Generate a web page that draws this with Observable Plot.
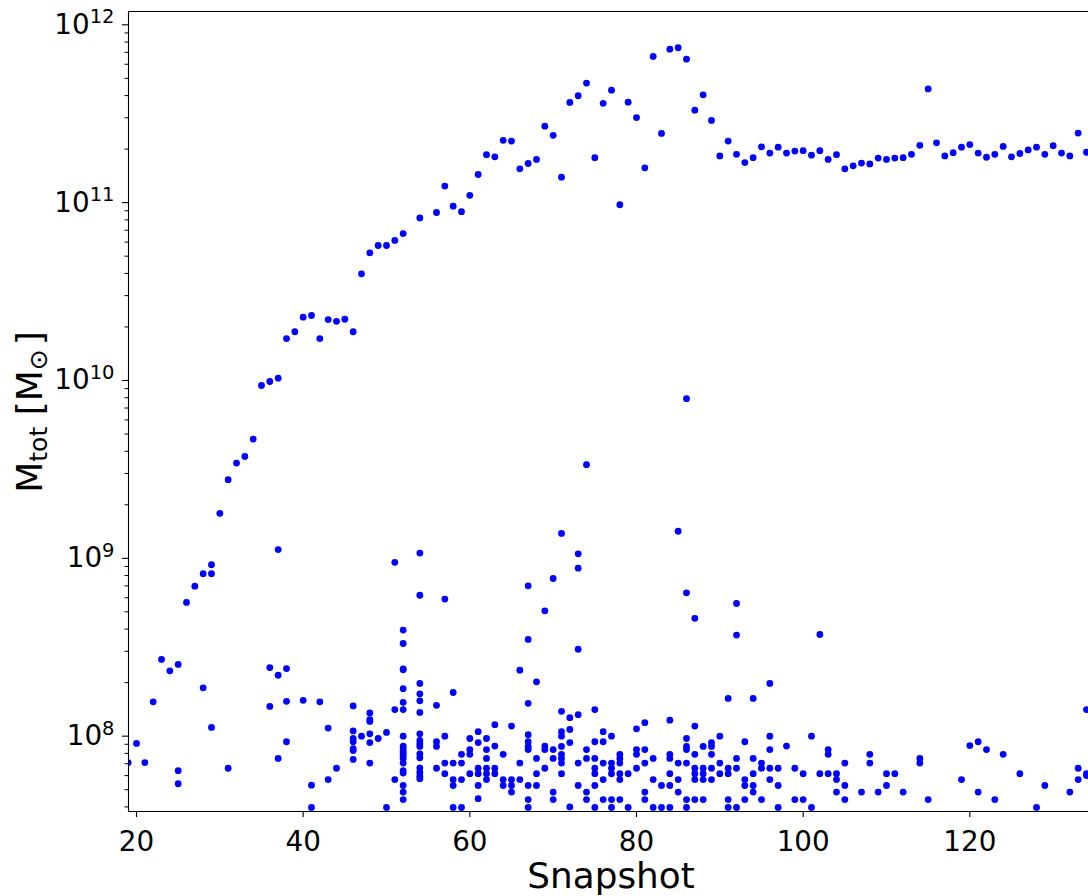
<!DOCTYPE html>
<html>
<head>
<meta charset="utf-8">
<script src="https://cdn.jsdelivr.net/npm/d3@7"></script>
<script src="https://cdn.jsdelivr.net/npm/@observablehq/plot@0.6"></script>
<style>
  html, body { margin: 0; padding: 0; background: #ffffff; }
  #chart svg { display: block; }
</style>
</head>
<body>
<div id="chart"></div>
<script>
// ---------- DATA ----------
// Main progenitor branch: snapshot and total mass (Msun)
const mainSnapshot = [22,23,24,25,26,27,28,29,30,31,32,33,34,35,36,37,38,39,40,41,42,43,44,45,46,47,48,49,50,51,52,54,56,57,58,59,60,61,62,63,64,65,66,67,68,69,70,71,72,73,74,75,76,77,78,79,80,81,82,83,84,85,86,87,88,89,90,91,92,93,94,95,96,97,98,99,100,101,102,103,104,105,106,107,108,109,110,111,112,113,114,115,116,117,118,119,120,121,122,123,124,125,126,127,128,129,130,131,132,133,134];
const mainMass = [1.56e8,2.7e8,2.33e8,2.53e8,5.65e8,6.97e8,8.2e8,9.2e8,1.79e9,2.77e9,3.43e9,3.74e9,4.68e9,9.37e9,9.87e9,1.03e10,1.72e10,1.88e10,2.27e10,2.32e10,1.72e10,2.2e10,2.15e10,2.21e10,1.88e10,3.98e10,5.22e10,5.74e10,5.74e10,6.13e10,6.7e10,8.2e10,8.8e10,1.24e11,9.55e10,8.9e10,1.10e11,1.44e11,1.86e11,1.81e11,2.24e11,2.22e11,1.55e11,1.66e11,1.75e11,2.69e11,2.39e11,1.39e11,3.66e11,3.99e11,4.70e11,1.79e11,3.62e11,4.29e11,9.73e10,3.67e11,3.01e11,1.57e11,6.64e11,2.45e11,7.29e11,7.43e11,6.41e11,3.31e11,4.04e11,2.90e11,1.83e11,2.22e11,1.87e11,1.68e11,1.79e11,2.06e11,1.90e11,2.05e11,1.90e11,1.95e11,1.96e11,1.85e11,1.96e11,1.75e11,1.86e11,1.55e11,1.61e11,1.67e11,1.65e11,1.78e11,1.75e11,1.78e11,1.79e11,1.87e11,2.10e11,4.36e11,2.17e11,1.83e11,1.91e11,2.05e11,2.12e11,1.90e11,1.80e11,1.87e11,2.07e11,1.81e11,1.89e11,1.98e11,2.05e11,1.87e11,2.09e11,1.90e11,1.83e11,2.46e11,1.92e11];

// Other haloes: [snapshot, total mass (Msun)]
const satellites = [
  [19,7.1e7],[20,9.1e7],[21,7.1e7],
  [25,6.4e7],[25,5.4e7],
  [28,1.87e8],
  [29,8.2e8],[29,1.12e8],
  [31,6.6e7],
  [36,2.43e8],[36,1.47e8],
  [37,2.2e8],[37,7.5e7],[37,1.12e9],
  [38,2.4e8],[38,1.57e8],[38,9.3e7],
  [40,1.59e8],
  [41,5.3e7],[41,3.97e7],
  [42,1.56e8],
  [43,1.11e8],[43,5.7e7],
  [44,6.6e7],
  [46,1.48e8],[46,1.07e8],[46,9.7e7],[46,9.3e7],[46,8.5e7],[46,8.3e7],[46,7.4e7],
  [47,1.0e8],
  [48,1.35e8],[48,1.24e8],[48,1.21e8],[48,1.03e8],[48,9.2e7],[48,7.06e7],
  [49,9.7e7],
  [50,1.05e8],[50,3.97e7],
  [51,9.5e8],[51,1.41e8],[51,5.7e7],
  [52,3.95e8],[52,3.32e8],[52,2.39e8],[52,2.36e8],[52,1.85e8],[52,1.55e8],[52,1.41e8],[52,1.0e8],[52,8.8e7],[52,8.5e7],[52,8.2e7],[52,7.95e7],[52,7.75e7],[52,7.5e7],[52,7.06e7],[52,6.4e7],[52,6.2e7],[52,5.28e7],[52,4.85e7],[52,4.4e7],
  [54,1.07e9],[54,6.2e8],[54,1.98e8],[54,1.73e8],[54,1.58e8],[54,1.36e8],[54,1.03e8],[54,9.46e7],[54,9.06e7],[54,8.75e7],[54,7.96e7],[54,7.56e7],[54,6.64e7],[54,6.27e7],[54,5.96e7],[54,5.77e7],
  [56,1.49e8],[56,9.3e7],[56,8.75e7],[56,6.6e7],
  [57,5.9e8],[57,1.0e8],[57,7.06e7],[57,6.15e7],
  [58,1.76e8],[58,7.06e7],[58,5.7e7],[58,5.28e7],[58,3.97e7],
  [59,7.9e7],[59,7.06e7],[59,5.7e7],[59,3.97e7],
  [60,9.7e7],[60,8.4e7],[60,7.9e7],[60,6.15e7],
  [61,1.06e8],[61,9.2e7],[61,6.6e7],[61,6.15e7],[61,5.28e7],[61,4.45e7],
  [62,9.7e7],[62,8.4e7],[62,7.5e7],[62,6.6e7],[62,6.15e7],[62,5.7e7],
  [63,1.16e8],[63,8.8e7],[63,6.6e7],[63,6.15e7],
  [64,7.9e7],[64,5.7e7],[64,5.28e7],
  [65,1.14e8],[65,5.7e7],[65,5.28e7],[65,4.85e7],
  [66,2.35e8],[66,7.06e7],[66,5.7e7],
  [67,7.0e8],[67,3.5e8],[67,1.53e8],[67,1.02e8],[67,9.3e7],[67,8.75e7],[67,8.4e7],[67,5.28e7],[67,4.4e7],[67,3.97e7],
  [68,2.02e8],[68,7.5e7],[68,6.15e7],[68,5.28e7],
  [69,5.07e8],[69,8.8e7],[69,8.4e7],[69,6.6e7],
  [70,7.7e8],[70,8.4e7],[70,7.5e7],[70,4.85e7],[70,4.4e7],
  [71,1.38e9],[71,1.38e8],[71,1.06e8],[71,1.0e8],[71,8.75e7],[71,7.9e7],[71,7.5e7],[71,7.06e7],[71,6.15e7],
  [72,1.27e8],[72,1.09e8],[72,9.2e7],[72,4.0e7],
  [73,1.06e9],[73,8.8e8],[73,3.08e8],[73,1.32e8],[73,7.06e7],[73,5.28e7],
  [74,3.36e9],[74,8.4e7],[74,7.5e7],[74,4.85e7],[74,4.4e7],
  [75,1.41e8],[75,9.3e7],[75,7.5e7],[75,6.6e7],[75,6.15e7],[75,5.28e7],[75,3.97e7],
  [76,1.06e8],[76,9.3e7],[76,7.06e7],[76,5.7e7],[76,4.4e7],
  [77,1.0e8],[77,7.06e7],[77,6.6e7],[77,6.15e7],[77,4.4e7],[77,3.97e7],
  [78,7.9e7],[78,7.5e7],[78,7.06e7],[78,6.15e7],[78,5.7e7],[78,4.4e7],
  [79,6.15e7],[79,3.97e7],
  [80,1.1e8],[80,8.4e7],[80,7.9e7],[80,6.6e7],
  [81,1.19e8],[81,8.4e7],[81,7.06e7],[81,4.85e7],[81,4.4e7],
  [82,7.5e7],[82,5.7e7],[82,3.97e7],
  [83,5.28e7],[83,3.97e7],
  [84,1.23e8],[84,7.9e7],[84,7.5e7],[84,6.15e7],[84,5.28e7],[84,3.97e7],
  [85,1.42e9],[85,7.06e7],[85,5.7e7],[85,4.85e7],
  [86,7.9e9],[86,6.4e8],[86,9.7e7],[86,8.75e7],[86,8.4e7],[86,7.06e7],[86,4.4e7],[86,3.97e7],
  [87,4.6e8],[87,1.14e8],[87,7.9e7],[87,6.6e7],[87,6.15e7],[87,5.7e7],[87,4.4e7],
  [88,8.75e7],[88,6.6e7],[88,6.15e7],[88,5.7e7],[88,4.4e7],
  [89,9.2e7],[89,8.75e7],[89,7.9e7],[89,6.6e7],[89,5.7e7],
  [90,1.0e8],[90,7.06e7],[90,6.15e7],
  [91,1.63e8],[91,6.6e7],[91,6.15e7],[91,4.4e7],[91,3.97e7],
  [92,5.57e8],[92,3.7e8],[92,7.5e7],[92,6.6e7],[92,3.97e7],
  [93,9.3e7],[93,5.7e7],[93,5.28e7],[93,4.4e7],
  [94,1.63e8],[94,7.5e7],[94,6.15e7],[94,5.28e7],[94,4.85e7],
  [95,7.06e7],[95,6.6e7],[95,4.4e7],
  [96,1.98e8],[96,1.0e8],[96,8.4e7],[96,6.6e7],[96,5.7e7],
  [97,6.6e7],[97,5.28e7],[97,3.97e7],
  [98,8.8e7],
  [99,6.6e7],[99,4.4e7],
  [100,6.15e7],[100,4.4e7],
  [101,1.0e8],[101,3.97e7],
  [102,3.73e8],[102,6.15e7],
  [103,8.4e7],[103,7.9e7],[103,6.15e7],
  [104,6.15e7],[104,5.7e7],[104,4.85e7],
  [105,7.06e7],[105,5.28e7],[105,4.4e7],
  [107,4.85e7],
  [108,7.9e7],[108,7.06e7],
  [109,4.85e7],
  [110,6.15e7],[110,5.28e7],
  [111,6.15e7],
  [112,4.85e7],
  [114,7.5e7],[114,7.06e7],
  [115,4.4e7],
  [119,5.7e7],
  [120,8.85e7],
  [121,9.3e7],[121,4.85e7],
  [122,8.4e7],
  [123,4.4e7],
  [124,7.9e7],
  [126,6.15e7],
  [128,3.97e7],
  [129,5.28e7],
  [132,4.85e7],
  [133,6.6e7],[133,5.7e7],
  [134,1.41e8],[134,6.15e7],[134,6.0e7]
];

// Axis settings
const xTicks = [20, 40, 60, 80, 100, 120];
const yMajorTicks = [1e8, 1e9, 1e10, 1e11, 1e12];
const xDomain = [19.04, 134.24];
const yDomain = [3.77e7, 1.188e12];
const xLabel = "Snapshot";

// ---------- BUILD ----------
const points = mainSnapshot.map((s, i) => ({snap: s, mass: mainMass[i]}))
  .concat(satellites.map(([s, m]) => ({snap: s, mass: m})));

const yMinorTicks = [];
for (let e = 7; e <= 11; e++) for (let k = 2; k <= 9; k++) {
  const v = k * Math.pow(10, e);
  if (v >= yDomain[0] && v <= yDomain[1]) yMinorTicks.push(v);
}

const FONT = "'DejaVu Sans', sans-serif";

const chart = Plot.plot({
  width: 1088,
  height: 896,
  marginLeft: 128,
  marginRight: 0,
  marginTop: 11,
  marginBottom: 85,
  style: {fontFamily: FONT, fontSize: "27.8px", color: "black", background: "white", overflow: "visible"},
  x: {domain: xDomain},
  y: {type: "log", domain: yDomain},
  marks: [
    Plot.dot(points, {x: "snap", y: "mass", r: 3.4, fill: "#0000ff", stroke: "none", clip: true}),
    Plot.axisX({ticks: xTicks, tickSize: 6, tickPadding: 14, tickFormat: d => String(d), label: null, strokeWidth: 1.1}),
    Plot.axisY({ticks: yMinorTicks, tickSize: 3.5, tickFormat: () => "", label: null, strokeWidth: 1}),
    Plot.axisY({ticks: yMajorTicks, tickSize: 6, tickPadding: 8, tickFormat: d => "10^" + Math.round(Math.log10(d)), label: null, strokeWidth: 1.1}),
    Plot.ruleX([xDomain[0]], {stroke: "black", strokeWidth: 1.1}),
    Plot.ruleY([yDomain[0], yDomain[1]], {stroke: "black", strokeWidth: 1.1})
  ]
});

document.getElementById("chart").appendChild(chart);

const svg = d3.select(chart.tagName.toLowerCase() === "svg" ? chart : chart.querySelector("svg"));

// Superscript exponents on the y tick labels
svg.selectAll("text").each(function() {
  const t = this.textContent;
  const m = /^10\^(\d+)$/.exec(t);
  if (m) {
    const sel = d3.select(this);
    sel.text(null);
    sel.append("tspan").text("10");
    sel.append("tspan").attr("dy", -10.5).attr("font-size", "19.5px").text(m[1]);
  }
});

// X axis label
svg.append("text")
  .attr("x", 611).attr("y", 888)
  .attr("text-anchor", "middle")
  .attr("font-family", FONT).attr("font-size", "35.8px").attr("fill", "black")
  .text(xLabel);

// Y axis label: M_tot [M_sun]
const yl = svg.append("text")
  .attr("transform", "translate(42,412) rotate(-90)")
  .attr("text-anchor", "middle")
  .attr("font-family", FONT).attr("font-size", "36px").attr("fill", "black");
yl.append("tspan").text("M");
yl.append("tspan").attr("dy", 5).attr("font-size", "25px").text("tot");
yl.append("tspan").attr("dy", -5).text(" [M");
yl.append("tspan").attr("dy", 5).attr("font-size", "25px").text("\u2299");
yl.append("tspan").attr("dy", -5).attr("dx", 4).text("]");
</script>
</body>
</html>
